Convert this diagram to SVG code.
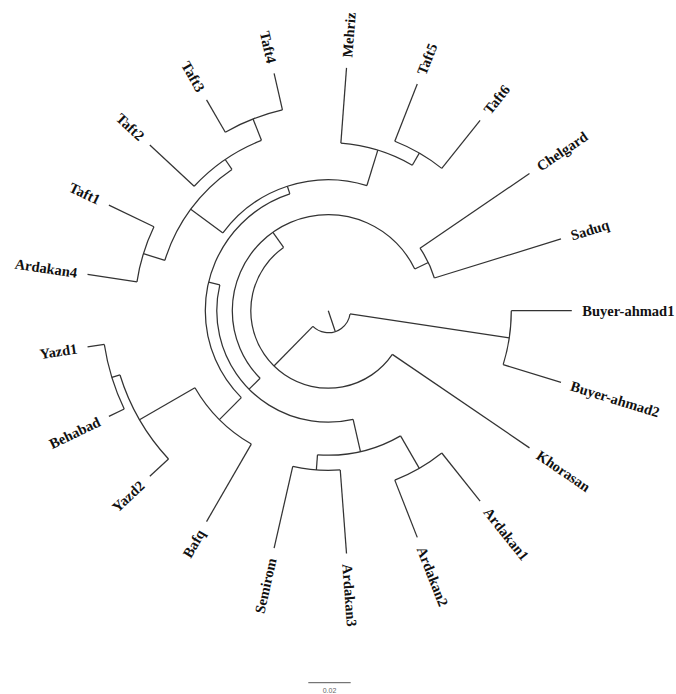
<svg xmlns="http://www.w3.org/2000/svg" width="676" height="694" viewBox="0 0 676 694">
<defs>
<style>
.e{stroke:#333;stroke-width:1.25;fill:none}
.a{stroke:#333;stroke-width:1.25;fill:none;stroke-linecap:butt}
.t{font-family:"Liberation Serif","Times New Roman",serif;font-weight:bold;font-size:14.5px;fill:#111}
.s{font-family:"Liberation Sans",Arial,sans-serif;font-size:7px;fill:#666}
</style>
</defs>
<rect width="676" height="694" fill="#fff"/>
<g transform="translate(328.3 310.7)">
<g id="connectors">
<!-- root -->
<line class="e" x1="0" x2="22" transform="rotate(71.55)"/>
<circle class="a" r="22" pathLength="360" stroke-dasharray="125.96 720" transform="rotate(8.57)"/>
<!-- Buyer clade -->
<line class="e" x1="22" x2="183" transform="rotate(8.57)"/>
<circle class="a" r="183" pathLength="360" stroke-dasharray="17.14 720" transform="rotate(0)"/>
<line class="e" x1="183" x2="243.5" transform="rotate(0)"/>
<line class="e" x1="183" x2="243.5" transform="rotate(17.14)"/>
<!-- N1 -->
<line class="e" x1="22" x2="77.5" transform="rotate(134.53)"/>
<circle class="a" r="77.5" pathLength="360" stroke-dasharray="200.49 720" transform="rotate(34.29)"/>
<line class="e" x1="77.5" x2="243.5" transform="rotate(34.29)"/>
<!-- N2 -->
<line class="e" x1="77.5" x2="96" transform="rotate(234.78)"/>
<circle class="a" r="96" pathLength="360" stroke-dasharray="199.02 720" transform="rotate(135.27)"/>
<!-- Chelgard / Saduq -->
<line class="e" x1="96" x2="111" transform="rotate(334.29)"/>
<circle class="a" r="111" pathLength="360" stroke-dasharray="17.15 720" transform="rotate(325.71)"/>
<line class="e" x1="111" x2="243.5" transform="rotate(325.71)"/>
<line class="e" x1="111" x2="243.5" transform="rotate(342.86)"/>
<!-- N3 -->
<line class="e" x1="96" x2="111.5" transform="rotate(135.27)"/>
<circle class="a" r="111.5" pathLength="360" stroke-dasharray="116.25 720" transform="rotate(77.14)"/>
<!-- Ardakan group -->
<line class="e" x1="111.5" x2="144.5" transform="rotate(77.14)"/>
<circle class="a" r="144.5" pathLength="360" stroke-dasharray="34.29 720" transform="rotate(60)"/>
<line class="e" x1="144.5" x2="182" transform="rotate(60)"/>
<circle class="a" r="182" pathLength="360" stroke-dasharray="17.14 720" transform="rotate(51.43)"/>
<line class="e" x1="182" x2="243.5" transform="rotate(51.43)"/>
<line class="e" x1="182" x2="243.5" transform="rotate(68.57)"/>
<line class="e" x1="144.5" x2="159.7" transform="rotate(94.29)"/>
<circle class="a" r="159.7" pathLength="360" stroke-dasharray="17.15 720" transform="rotate(85.71)"/>
<line class="e" x1="159.7" x2="243.5" transform="rotate(85.71)"/>
<line class="e" x1="159.7" x2="243.5" transform="rotate(102.86)"/>
<!-- N4 -->
<line class="e" x1="111.5" x2="123" transform="rotate(193.39)"/>
<circle class="a" r="123" pathLength="360" stroke-dasharray="116.79 720" transform="rotate(135)"/>
<!-- N5 Bafq / Yazd -->
<line class="e" x1="123" x2="154" transform="rotate(135)"/>
<circle class="a" r="154" pathLength="360" stroke-dasharray="30 720" transform="rotate(120)"/>
<line class="e" x1="154" x2="243.5" transform="rotate(120)"/>
<line class="e" x1="154" x2="218" transform="rotate(150)"/>
<circle class="a" r="218" pathLength="360" stroke-dasharray="25.72 720" transform="rotate(137.14)"/>
<line class="e" x1="218" x2="243.5" transform="rotate(137.14)"/>
<line class="e" x1="218" x2="226.5" transform="rotate(162.86)"/>
<circle class="a" r="226.5" pathLength="360" stroke-dasharray="17.14 720" transform="rotate(154.29)"/>
<line class="e" x1="226.5" x2="243.5" transform="rotate(154.29)"/>
<line class="e" x1="226.5" x2="243.5" transform="rotate(171.43)"/>
<!-- N8 -->
<line class="e" x1="123" x2="131" transform="rotate(251.79)"/>
<circle class="a" r="131" pathLength="360" stroke-dasharray="70.71 720" transform="rotate(216.43)"/>
<!-- N10 Taft group -->
<line class="e" x1="131" x2="171" transform="rotate(216.43)"/>
<circle class="a" r="171" pathLength="360" stroke-dasharray="38.57 720" transform="rotate(197.14)"/>
<line class="e" x1="171" x2="193.5" transform="rotate(197.14)"/>
<circle class="a" r="193.5" pathLength="360" stroke-dasharray="17.14 720" transform="rotate(188.57)"/>
<line class="e" x1="193.5" x2="243.5" transform="rotate(188.57)"/>
<line class="e" x1="193.5" x2="243.5" transform="rotate(205.71)"/>
<line class="e" x1="171" x2="183" transform="rotate(235.71)"/>
<circle class="a" r="183" pathLength="360" stroke-dasharray="25.71 720" transform="rotate(222.86)"/>
<line class="e" x1="183" x2="243.5" transform="rotate(222.86)"/>
<line class="e" x1="183" x2="206" transform="rotate(248.57)"/>
<circle class="a" r="206" pathLength="360" stroke-dasharray="17.14 720" transform="rotate(240)"/>
<line class="e" x1="206" x2="243.5" transform="rotate(240)"/>
<line class="e" x1="206" x2="243.5" transform="rotate(257.14)"/>
<!-- N9 Mehriz / Taft5 / Taft6 -->
<line class="e" x1="131" x2="168" transform="rotate(287.14)"/>
<circle class="a" r="168" pathLength="360" stroke-dasharray="25.71 720" transform="rotate(274.29)"/>
<line class="e" x1="168" x2="243.5" transform="rotate(274.29)"/>
<line class="e" x1="168" x2="182" transform="rotate(300)"/>
<circle class="a" r="182" pathLength="360" stroke-dasharray="17.14 720" transform="rotate(291.43)"/>
<line class="e" x1="182" x2="243.5" transform="rotate(291.43)"/>
<line class="e" x1="182" x2="243.5" transform="rotate(308.57)"/>
</g>
<g id="n-buyer-ahmad1"><text class="t" dy="5" transform="rotate(0) translate(254 0)">Buyer-ahmad1</text></g>
<g id="n-buyer-ahmad2"><text class="t" dy="5" transform="rotate(17.14) translate(254 0)">Buyer-ahmad2</text></g>
<g id="n-khorasan"><text class="t" dy="5" transform="rotate(34.29) translate(254 0)">Khorasan</text></g>
<g id="n-ardakan1"><text class="t" dy="5" transform="rotate(51.43) translate(254 0)">Ardakan1</text></g>
<g id="n-ardakan2"><text class="t" dy="5" transform="rotate(68.57) translate(254 0)">Ardakan2</text></g>
<g id="n-ardakan3"><text class="t" dy="5" transform="rotate(85.71) translate(254 0)">Ardakan3</text></g>
<g id="n-semirom"><text class="t" dy="5" text-anchor="end" transform="rotate(102.86) translate(254 0) rotate(180)">Semirom</text></g>
<g id="n-bafq"><text class="t" dy="5" text-anchor="end" transform="rotate(120) translate(254 0) rotate(180)">Bafq</text></g>
<g id="n-yazd2"><text class="t" dy="5" text-anchor="end" transform="rotate(137.14) translate(254 0) rotate(180)">Yazd2</text></g>
<g id="n-behabad"><text class="t" dy="5" text-anchor="end" transform="rotate(154.29) translate(254 0) rotate(180)">Behabad</text></g>
<g id="n-yazd1"><text class="t" dy="5" text-anchor="end" transform="rotate(171.43) translate(254 0) rotate(180)">Yazd1</text></g>
<g id="n-ardakan4"><text class="t" dy="5" text-anchor="end" transform="rotate(188.57) translate(254 0) rotate(180)">Ardakan4</text></g>
<g id="n-taft1"><text class="t" dy="5" text-anchor="end" transform="rotate(205.71) translate(254 0) rotate(180)">Taft1</text></g>
<g id="n-taft2"><text class="t" dy="5" text-anchor="end" transform="rotate(222.86) translate(254 0) rotate(180)">Taft2</text></g>
<g id="n-taft3"><text class="t" dy="5" text-anchor="end" transform="rotate(240) translate(254 0) rotate(180)">Taft3</text></g>
<g id="n-taft4"><text class="t" dy="5" text-anchor="end" transform="rotate(257.14) translate(254 0) rotate(180)">Taft4</text></g>
<g id="n-mehriz"><text class="t" dy="5" transform="rotate(274.29) translate(254 0)">Mehriz</text></g>
<g id="n-taft5"><text class="t" dy="5" transform="rotate(291.43) translate(254 0)">Taft5</text></g>
<g id="n-taft6"><text class="t" dy="5" transform="rotate(308.57) translate(254 0)">Taft6</text></g>
<g id="n-chelgard"><text class="t" dy="5" transform="rotate(325.71) translate(254 0)">Chelgard</text></g>
<g id="n-saduq"><text class="t" dy="5" transform="rotate(342.86) translate(254 0)">Saduq</text></g>
</g>
<g id="scale-bar">
<line x1="308.3" y1="682.7" x2="350.7" y2="682.7" stroke="#555" stroke-width="1"/>
<text class="s" x="329.5" y="693" text-anchor="middle">0.02</text>
</g>
</svg>
